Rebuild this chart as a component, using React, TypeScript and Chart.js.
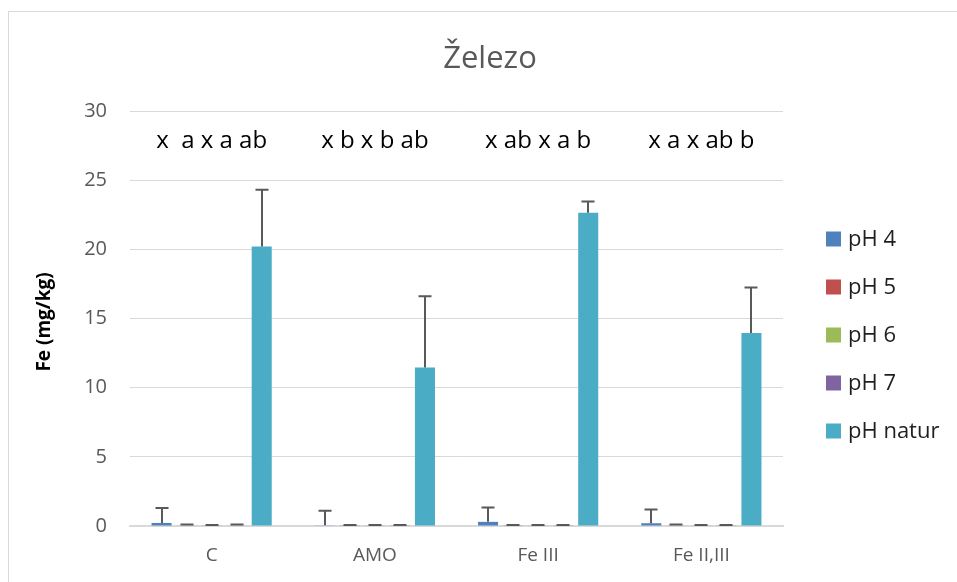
import React, { useEffect, useRef } from "react";
import { Chart, registerables } from "chart.js";

Chart.register(...registerables);

// Iron content (mg/kg) per treatment and pH level
const categories = ["C", "AMO", "Fe III", "Fe II,III"];
const seriesLabels = ["pH 4", "pH 5", "pH 6", "pH 7", "pH natur"];
const seriesColors = ["#4f81bd", "#c0504d", "#9bbb59", "#8064a2", "#4bacc6"];

const ph4 = [0.22, 0.05, 0.3, 0.2];
const ph5 = [0.03, 0.02, 0.02, 0.03];
const ph6 = [0.02, 0.02, 0.02, 0.02];
const ph7 = [0.03, 0.02, 0.02, 0.02];
const phNatur = [20.2, 11.45, 22.65, 13.95];

// positive error bar lengths (standard deviation)
const ph4Err = [1.08, 1.05, 1.03, 1.0];
const ph5Err = [0.07, 0.05, 0.05, 0.07];
const ph6Err = [0.05, 0.05, 0.05, 0.05];
const ph7Err = [0.07, 0.05, 0.05, 0.05];
const phNaturErr = [4.1, 5.15, 0.8, 3.3];

// significance letters above each group
const groupLetters = ["x  a x a ab", "x b x b ab", "x ab x a b", "x a x ab b"];

const yTicksMax = 30;
const yStep = 5;

const FONT = "'Open Sans', 'Noto Sans', sans-serif";

const seriesValues = [ph4, ph5, ph6, ph7, phNatur];
const seriesErrors = [ph4Err, ph5Err, ph6Err, ph7Err, phNaturErr];

const decorations = {
  id: "decorations",
  afterDatasetsDraw(chart: any) {
    const { ctx } = chart;
    const yScale = chart.scales.y;

    // error bars
    ctx.save();
    ctx.strokeStyle = "#595959";
    ctx.lineWidth = 2;
    chart.data.datasets.forEach((ds: any, i: number) => {
      const meta = chart.getDatasetMeta(i);
      const errs = seriesErrors[i];
      meta.data.forEach((bar: any, j: number) => {
        const v = ds.data[j];
        const yTop = yScale.getPixelForValue(v + errs[j]);
        const yBase = yScale.getPixelForValue(v);
        const x = Math.round(bar.x);
        ctx.beginPath();
        ctx.moveTo(x, yBase);
        ctx.lineTo(x, yTop);
        ctx.moveTo(x - 6.5, yTop);
        ctx.lineTo(x + 6.5, yTop);
        ctx.stroke();
      });
    });
    ctx.restore();
  },
  afterDraw(chart: any) {
    const { ctx } = chart;
    const xScale = chart.scales.x;

    ctx.save();
    // title
    ctx.fillStyle = "#595959";
    ctx.font = `31px ${FONT}`;
    ctx.textAlign = "center";
    ctx.textBaseline = "alphabetic";
    ctx.fillText("Železo", 490, 68);

    // letters above groups
    ctx.fillStyle = "#000000";
    ctx.font = `24px ${FONT}`;
    groupLetters.forEach((t, i) => {
      ctx.fillText(t, xScale.getPixelForValue(i), 148);
    });

    // y axis title
    ctx.save();
    ctx.translate(45, 322);
    ctx.rotate(-Math.PI / 2);
    ctx.font = `bold 19px ${FONT}`;
    ctx.textBaseline = "middle";
    ctx.fillText("Fe (mg/kg)", 0, 0);
    ctx.restore();

    // legend
    ctx.textAlign = "left";
    ctx.textBaseline = "middle";
    ctx.font = `22px ${FONT}`;
    chart.data.datasets.forEach((ds: any, i: number) => {
      const cy = 239 + i * 48;
      ctx.fillStyle = ds.backgroundColor;
      ctx.fillRect(826, cy - 7.5, 15, 15);
      ctx.fillStyle = "#1f1f1f";
      ctx.fillText(ds.label, 848, cy + 1);
    });
    ctx.restore();
  },
};

export default function App() {
  const canvasRef = useRef<HTMLCanvasElement>(null);

  useEffect(() => {
    const canvas = canvasRef.current;
    if (!canvas) return;
    const chart = new Chart(canvas, {
      type: "bar",
      data: {
        labels: categories,
        datasets: seriesLabels.map((label, i) => ({
          label,
          data: seriesValues[i],
          backgroundColor: seriesColors[i],
          borderWidth: 0,
          categoryPercentage: 0.767,
          barPercentage: 0.8,
        })),
      },
      options: {
        responsive: false,
        animation: false,
        devicePixelRatio: 1,
        layout: { padding: { left: 0, right: 174, top: 111, bottom: 0 } },
        plugins: {
          legend: { display: false },
          title: { display: false },
          tooltip: { enabled: false },
        },
        scales: {
          x: {
            grid: { display: true, drawOnChartArea: false, drawTicks: false },
            border: { display: true, color: "#d9d9d9", width: 2 },
            ticks: {
              color: "#595959",
              font: { family: FONT, size: 19 },
              padding: 18,
            },
            afterFit(scale: any) {
              scale.height = 56;
            },
          },
          y: {
            min: 0,
            max: yTicksMax,
            ticks: {
              stepSize: yStep,
              color: "#595959",
              font: { family: FONT, size: 20 },
              padding: 23,
            },
            grid: { color: "#d9d9d9", lineWidth: 1, drawTicks: false },
            border: { display: false },
            afterFit(scale: any) {
              scale.width = 130;
            },
          },
        },
      },
      plugins: [decorations],
    });
    return () => chart.destroy();
  }, []);

  return (
    <div
      style={{
        position: "fixed",
        left: 0,
        top: 0,
        width: 957,
        height: 582,
        background: "#ffffff",
        overflow: "hidden",
      }}
    >
      <div
        style={{
          position: "absolute",
          left: 8,
          top: 11,
          width: 1200,
          height: 900,
          border: "1px solid #d9d9d9",
        }}
      />
      <canvas
        ref={canvasRef}
        width={957}
        height={582}
        style={{ position: "absolute", left: 0, top: 0 }}
      />
    </div>
  );
}
